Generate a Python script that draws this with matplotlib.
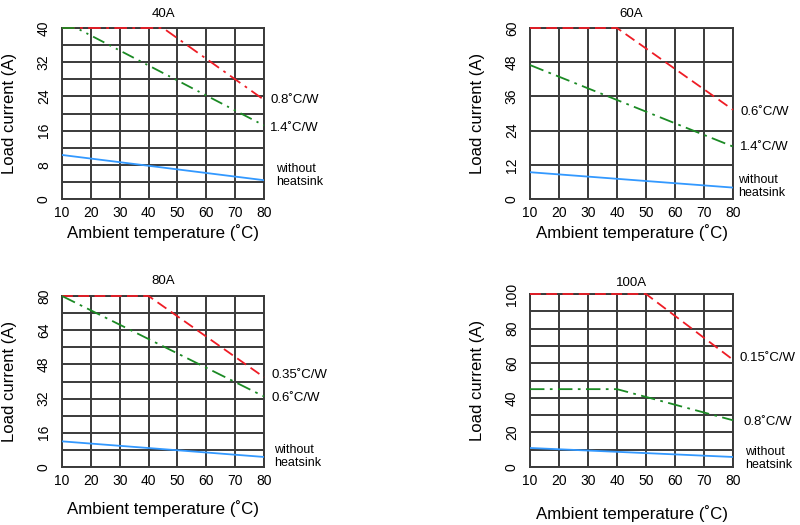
import matplotlib
matplotlib.use("Agg")
import matplotlib.pyplot as plt
import matplotlib.transforms as mtransforms

plt.rcParams['font.family'] = ['Liberation Sans', 'DejaVu Sans']

# ---------------- data ----------------
titles = ["40A", "60A", "80A", "100A"]
x_ticks = [10, 20, 30, 40, 50, 60, 70, 80]

y_max = [40, 60, 80, 100]
y_tick_step = [8, 12, 16, 20]
y_grid_step = [4, 12, 8, 10]

# heatsink curve 1 (red), curve 2 (green), no heatsink (blue)
red_x = [[10, 45, 80], [10, 40, 80], [10, 40, 80], [10, 50, 80]]
red_y = [[40, 40, 23.2], [60, 60, 31.3], [80, 80, 42], [100, 100, 62]]
green_x = [[10, 15, 80], [10, 80], [10, 80], [10, 40, 80]]
green_y = [[40, 40, 17.2], [47, 18.4], [80, 33], [45, 45, 27]]
blue_x = [[10, 80], [10, 80], [10, 80], [10, 80]]
blue_y = [[10.3, 4.4], [9.4, 4.0], [12.0, 4.7], [11, 5.8]]

red_labels = ["0.8˚C/W", "0.6˚C/W", "0.35˚C/W", "0.15˚C/W"]
green_labels = ["1.4˚C/W", "1.4˚C/W", "0.6˚C/W", "0.8˚C/W"]
blue_label = "without\nheatsink"

# ---------------- layout ----------------
W, H = 800, 525
boxes = [(62, 264, 28, 199), (530, 733, 28, 199),
         (62, 264, 296, 467), (530, 733, 294, 467)]
red_lab_pos = [(1.03, 23.2), (1.035, 30.5), (1.035, 43), (1.03, 63)]
green_lab_pos = [(1.03, 16.6), (1.035, 18.2), (1.035, 32.3), (1.05, 26)]
blue_lab_pos = [(1.06, 5.6), (1.025, 4.4), (1.05, 4.8), (1.06, 4.8)]
red_styles = [(0, (7, 3, 1.5, 3)), (0, (6, 3)), (0, (6, 3)), (0, (6, 3))]
green_styles = [(0, (7, 3, 1.2, 3, 1.2, 3)), (0, (8, 3, 1.5, 3)),
                (0, (8, 3, 1.5, 3)), (0, (8, 3, 1.5, 3))]
xlabel_pad = [3.2, 3.2, 9, 12.6]
title_pad = [8, 8, 9, 6]

RED = "#ee1c25"
GREEN = "#1b8a24"
BLUE = "#3399ff"
GRID = "#3a3a3a"

fig = plt.figure(figsize=(W / 100, H / 100), dpi=100)

for i in range(4):
    l, r, t, b = boxes[i]
    ax = fig.add_axes([l / W, 1 - b / H, (r - l) / W, (b - t) / H])
    ax.set_xlim(10, 80)
    ax.set_ylim(0, y_max[i])

    # grid
    for gx in x_ticks:
        ax.axvline(gx, color=GRID, lw=1.4, zorder=1)
    gy = 0
    while gy <= y_max[i] + 1e-9:
        ax.axhline(gy, color=GRID, lw=1.4, zorder=1)
        gy += y_grid_step[i]

    ax.plot(red_x[i], red_y[i], color=RED, lw=1.3, linestyle=red_styles[i],
            zorder=3, clip_on=False)
    ax.plot(green_x[i], green_y[i], color=GREEN, lw=1.3,
            linestyle=green_styles[i], zorder=3, clip_on=False)
    ax.plot(blue_x[i], blue_y[i], color=BLUE, lw=1.3, zorder=3)

    ax.set_xticks(x_ticks)
    yt = list(range(0, y_max[i] + 1, y_tick_step[i]))
    ax.set_yticks(yt)
    ax.tick_params(length=0, labelsize=10, colors="black")
    ax.tick_params(axis='x', pad=5)
    ax.tick_params(axis='y', pad=8)
    for lab in ax.get_yticklabels():
        lab.set_rotation(90)
        lab.set_va('center')

    for s in ax.spines.values():
        s.set_linewidth(1.4)
        s.set_color(GRID)

    ax.set_title(titles[i], fontsize=9.5, pad=title_pad[i])
    ax.set_xlabel("Ambient temperature (˚C)", fontsize=12.2,
                  labelpad=xlabel_pad[i])
    ax.set_ylabel("Load current (A)", fontsize=12, labelpad=14)

    trans = mtransforms.blended_transform_factory(ax.transAxes, ax.transData)
    ax.text(red_lab_pos[i][0], red_lab_pos[i][1], red_labels[i],
            transform=trans, fontsize=9.5, va='center', ha='left')
    ax.text(green_lab_pos[i][0], green_lab_pos[i][1], green_labels[i],
            transform=trans, fontsize=9.5, va='center', ha='left')
    ax.text(blue_lab_pos[i][0], blue_lab_pos[i][1], blue_label,
            transform=trans, fontsize=9, va='center', ha='left',
            linespacing=1.1)

fig.savefig("out.png", dpi=100)
